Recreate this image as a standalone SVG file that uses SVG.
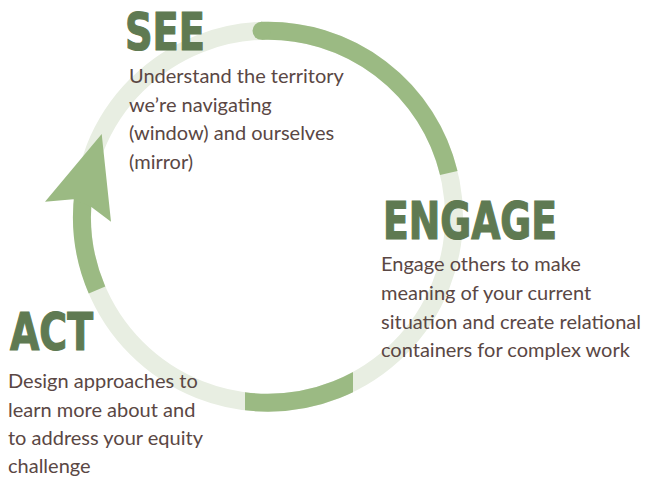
<svg xmlns="http://www.w3.org/2000/svg" width="647" height="480" viewBox="0 0 647 480">
<style>
.ring{fill:none;stroke:#e8eee2;stroke-width:18}
.arc{fill:none;stroke:#9bba83;stroke-width:18;stroke-linecap:butt}
.title{font-family:"DejaVu Sans Condensed","DejaVu Sans","Liberation Sans",sans-serif;font-weight:bold;font-size:51px;fill:#5f7a52;stroke:#5f7a52;stroke-width:1.2}
.body{font-family:Lato,"Open Sans",sans-serif;font-size:20px;fill:#5a4744}
</style>
<defs>
<clipPath id="bclip"><rect x="245" y="300" width="108" height="180"/></clipPath>
</defs>
<g id="connectors">
<circle class="ring" cx="268" cy="216.7" r="186"/>
<path class="arc" d="M261.5,30.8 A186,186 0 0 1 448.8,173"/>
<circle cx="261.5" cy="30.8" r="9" fill="#9bba83"/>
<circle class="arc" cx="268" cy="216.7" r="186" clip-path="url(#bclip)"/>
<path class="arc" d="M97,290 A186,186 0 0 1 83.8,190.8"/>
<polygon points="45,201.7 101.7,134 111,221.7 91.7,207.3 73.3,199.3" fill="#9bba83"/>
</g>
<g id="see">
<text class="title" x="125" y="50" textLength="80" lengthAdjust="spacingAndGlyphs">SEE</text>
<text class="body" x="129" y="83">Understand the territory</text>
<text class="body" x="129" y="111.5">we’re navigating</text>
<text class="body" x="129" y="140">(window) and ourselves</text>
<text class="body" x="129" y="168.5">(mirror)</text>
</g>
<g id="engage">
<text class="title" x="383" y="239" textLength="174" lengthAdjust="spacingAndGlyphs">ENGAGE</text>
<text class="body" x="381" y="271">Engage others to make</text>
<text class="body" x="381" y="300">meaning of your current</text>
<text class="body" x="381" y="328.5">situation and create relational</text>
<text class="body" x="381" y="357">containers for complex work</text>
</g>
<g id="act">
<text class="title" x="10" y="350" textLength="83" lengthAdjust="spacingAndGlyphs">ACT</text>
<text class="body" x="8" y="388">Design approaches to</text>
<text class="body" x="8" y="416.5">learn more about and</text>
<text class="body" x="8" y="445">to address your equity</text>
<text class="body" x="8" y="473">challenge</text>
</g>
</svg>
